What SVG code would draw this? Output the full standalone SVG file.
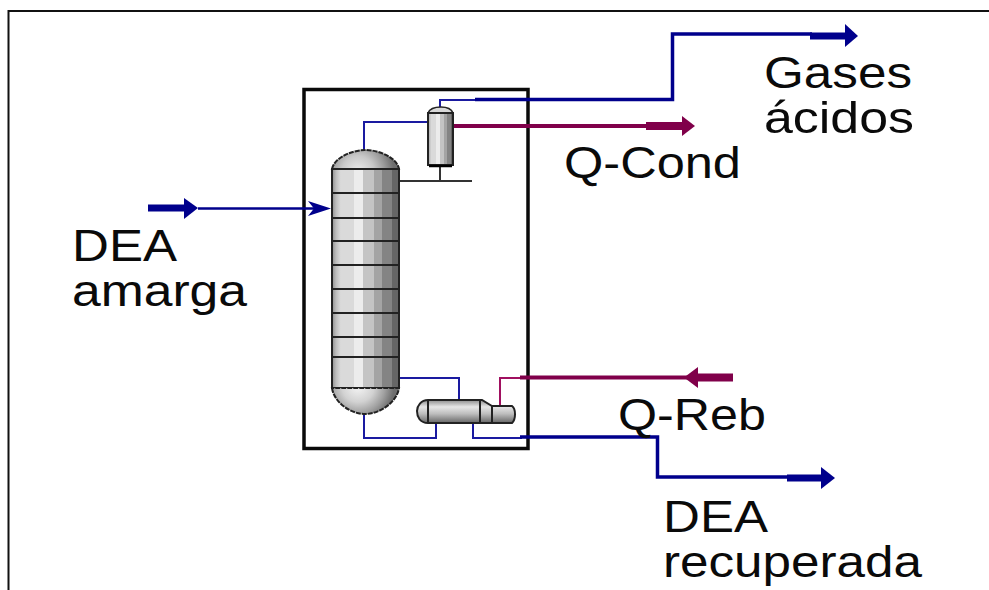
<svg xmlns="http://www.w3.org/2000/svg" width="989" height="590" viewBox="0 0 989 590">
<style>
.lbl{font-family:"Liberation Sans",Arial,sans-serif;font-size:44.500px;fill:#0a0a0a}
.tray{stroke:#222;stroke-width:2;fill:none}
.blue{fill:none;stroke:#00008c;stroke-width:3.500}
.bluethin{fill:none;stroke:#1a1aa0;stroke-width:2}
.bluefeed{fill:none;stroke:#00008c;stroke-width:2.500}
.bluethick{fill:none;stroke:#00008c;stroke-width:7}
.red{fill:none;stroke:#80004a;stroke-width:4}
.redthin{fill:none;stroke:#a01060;stroke-width:2}
.redthick{fill:none;stroke:#80004a;stroke-width:8}
.bh{fill:#00008c}
.rh{fill:#80004a}
</style>
<defs>
<linearGradient id="cyl" x1="0" y1="0" x2="1" y2="0">
<stop offset="0" stop-color="#8e8e8e"/><stop offset="0.06" stop-color="#bcbcbc"/><stop offset="0.13" stop-color="#dadada"/><stop offset="0.33" stop-color="#dadada"/><stop offset="0.33" stop-color="#ececec"/><stop offset="0.47" stop-color="#ececec"/><stop offset="0.47" stop-color="#c4c4c4"/><stop offset="0.62" stop-color="#c4c4c4"/><stop offset="0.62" stop-color="#a4a4a4"/><stop offset="0.75" stop-color="#a4a4a4"/><stop offset="0.75" stop-color="#848484"/><stop offset="0.9" stop-color="#848484"/><stop offset="0.9" stop-color="#666"/><stop offset="1" stop-color="#666"/>
</linearGradient>
<radialGradient id="dome" gradientUnits="userSpaceOnUse" cx="358" cy="172" r="36">
<stop offset="0" stop-color="#ececec"/><stop offset="0.45" stop-color="#c8c8c8"/><stop offset="0.75" stop-color="#9a9a9a"/><stop offset="1" stop-color="#6e6e6e"/>
</radialGradient>
<radialGradient id="dish" gradientUnits="userSpaceOnUse" cx="358" cy="386" r="36">
<stop offset="0" stop-color="#f6f6f6"/><stop offset="0.45" stop-color="#d2d2d2"/><stop offset="0.75" stop-color="#a0a0a0"/><stop offset="1" stop-color="#6e6e6e"/>
</radialGradient>
<linearGradient id="hcyl" x1="0" y1="0" x2="0" y2="1">
<stop offset="0" stop-color="#8c8c8c"/><stop offset="0.3" stop-color="#e6e6e6"/><stop offset="0.6" stop-color="#bdbdbd"/><stop offset="1" stop-color="#666"/>
</linearGradient>
</defs>
<g id="page-frame"><path d="M8.500 590V11H989" fill="none" stroke="#111" stroke-width="2"/></g>
<g id="block-box"><rect x="304" y="89.500" width="224" height="359" fill="#fff" stroke="#0a0a0a" stroke-width="3.500"/></g>
<g id="connectors">
<path class="bluethin" d="M364 151V122H428"/>
<path class="bluethin" d="M440 108V100H476"/>
<path class="blue" d="M475 99.500H672.500V34H812"/>
<path class="bluethick" d="M810 36H846"/>
<path class="bh" d="M845 24L858 36L845 47Z"/>
<path class="red" d="M453 126H648"/>
<path class="redthick" d="M646 126H682"/>
<path class="rh" d="M682 116L695 126L682 136Z"/>
<path d="M148 208H186" class="bluethick"/>
<path class="bh" d="M184 198L198 208L184 219Z"/>
<path class="bluefeed" d="M198 208.500H320"/>
<path class="bh" d="M308 201L331 208.500L308 216L314 208.500Z"/>
<path d="M400 181H472M440 166V181" fill="none" stroke="#333" stroke-width="2"/>
<path class="bluethin" d="M399 378H459V400"/>
<path class="bluethin" d="M364 414V438H436V423"/>
<path class="bluethin" d="M473 423V438H522"/>
<path class="blue" d="M520 437H657.500V477H790"/>
<path class="bluethick" d="M787 478H822"/>
<path class="bh" d="M821 467L835 478L821 489Z"/>
<path class="redthin" d="M500 405V378H522"/>
<path class="red" d="M520 377.500H698"/>
<path class="redthick" d="M697 377.500H733"/>
<path class="rh" d="M698 367L684 377.500L698 388Z"/>
</g>
<g id="column">
<path d="M332 169C334 158 352 150 365 150C380 150 397 158 399 169Z" fill="url(#dome)" stroke="#222" stroke-width="2" stroke-dasharray="5 1"/>
<rect x="332" y="169" width="67" height="219" fill="url(#cyl)" stroke="#222" stroke-width="2"/>
<path d="M332 388C334 402 350 414 365 414C380 414 397 402 399 388Z" fill="url(#dish)" stroke="#222" stroke-width="2" stroke-dasharray="5 1"/>
<path class="tray" d="M332 193H399M332 218H399M332 241H399M332 265H399M332 289H399M332 313H399M332 337H399M332 357H399"/>
</g>
<g id="condenser">
<path d="M428 113C430 108 436 107 441 107C446 107 451 108 453 113Z" fill="#d8d8d8" stroke="#222" stroke-width="1.500"/>
<rect x="428" y="113" width="25" height="52" fill="url(#cyl)" stroke="#222" stroke-width="2"/>
<path d="M429 166H452" stroke="#000" stroke-width="2.500"/>
</g>
<g id="reboiler">
<path d="M428 400H482L492 406H512C516 409 516 419 512 423H428C420 423 417 417 417 411C417 406 421 400 428 400Z" fill="url(#hcyl)" stroke="#222" stroke-width="2"/>
<path class="tray" d="M428 400V423M480 400V423M492 406V423"/>
</g>
<g id="labels">
<text class="lbl" x="72" y="261" textLength="105" lengthAdjust="spacingAndGlyphs">DEA</text>
<text class="lbl" x="72" y="306" textLength="175" lengthAdjust="spacingAndGlyphs">amarga</text>
<text class="lbl" x="764" y="88" textLength="148" lengthAdjust="spacingAndGlyphs">Gases</text>
<text class="lbl" x="764" y="133" textLength="150" lengthAdjust="spacingAndGlyphs">ácidos</text>
<text class="lbl" x="564" y="178" textLength="177" lengthAdjust="spacingAndGlyphs">Q-Cond</text>
<text class="lbl" x="618" y="430" textLength="148" lengthAdjust="spacingAndGlyphs">Q-Reb</text>
<text class="lbl" x="663" y="532" textLength="105" lengthAdjust="spacingAndGlyphs">DEA</text>
<text class="lbl" x="663" y="577" textLength="259" lengthAdjust="spacingAndGlyphs">recuperada</text>
</g>
</svg>
